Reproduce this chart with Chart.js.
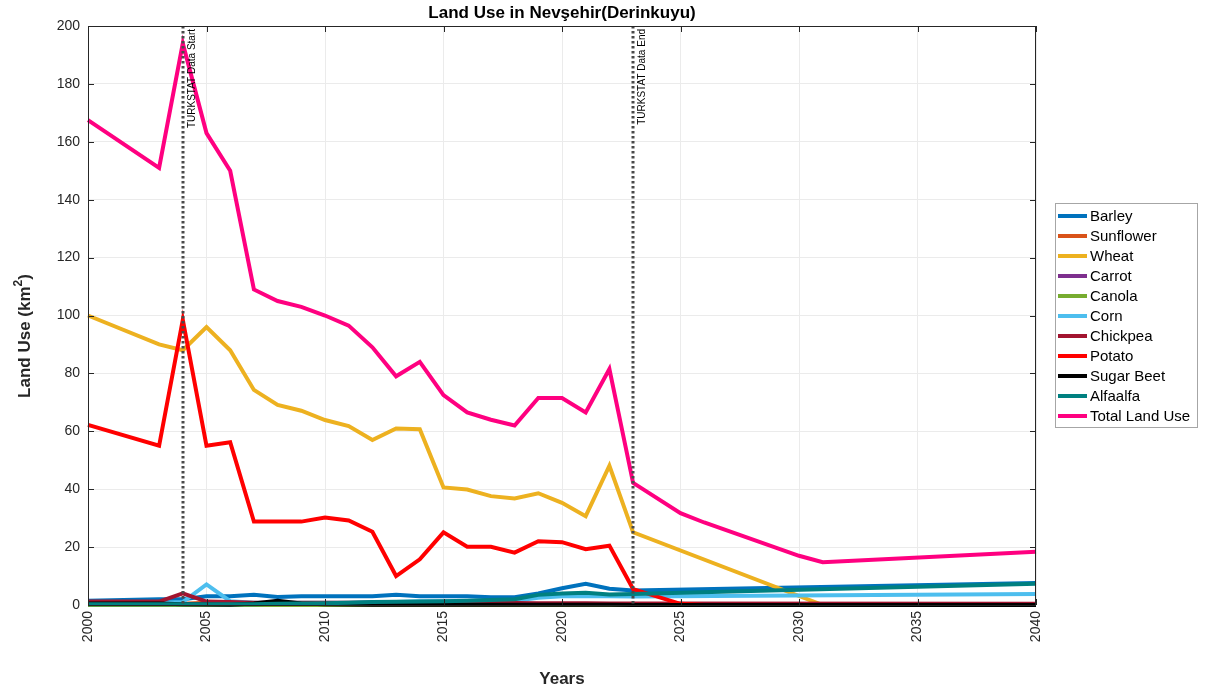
<!DOCTYPE html>
<html>
<head>
<meta charset="utf-8">
<script src="https://cdn.jsdelivr.net/npm/chart.js@4.4.1/dist/chart.umd.min.js"></script>
<style>
html,body{margin:0;padding:0;background:#fff;}
#wrap{width:1206px;height:693px;}
</style>
</head>
<body>
<div id="wrap"><canvas id="c"></canvas></div>
<script>
//Data
var years = [2000,2003,2004,2005,2006,2007,2008,2009,2010,2011,2012,2013,2014,2015,2016,2017,2018,2019,2020,2021,2022,2023,2025,2026,2030,2031,2040];
var labels = ["Barley","Sunflower","Wheat","Carrot","Canola","Corn","Chickpea","Potato","Sugar Beet","Alfaalfa","Total Land Use"];
var colors = ["#0072BD","#D95319","#EDB120","#7E2F8E","#77AC30","#4DBEEE","#A2142F","#FF0000","#000000","#008080","#FF0080"];
var barley    = [1.5,2,2,3,3,3.5,2.8,3,3,3,3,3.5,3,3,3,2.7,2.7,4,5.8,7.3,5.6,5,null,null,null,null,7.6];
var sunflower = [0.3,0.3,0.4,0.8,0.4,0.3,0.3,0.3,0.3,0.3,0.3,0.3,0.3,0.3,0.3,0.3,0.3,0.3,0.3,0.3,0.3,0.2,null,null,null,null,0.2];
var wheat     = [100,90,88,96,88,74.3,69.1,67.1,63.9,61.8,57,61,60.7,40.6,39.9,37.6,36.8,38.6,35.3,30.7,48.1,25.1,null,null,null,0,0];
var carrot    = [0.2,0.2,0.2,0.2,0.2,0.2,0.2,0.2,0.2,0.2,0.2,0.2,0.2,0.2,0.2,0.2,0.2,0.2,0.2,0.2,0.2,0.1,null,null,null,null,0.1];
var canola    = [0,0,0,0,0,0,0,0,0,0,0.1,0.1,0.1,0.1,0.1,0.1,0.1,0.1,0.1,0.1,0.1,0.1,null,null,null,null,0.1];
var corn      = [0.8,0.8,1,7.1,1.3,0.8,0.8,0.8,0.8,0.8,1,1,1.3,1.3,1.3,1.3,1.5,2.5,3,3,3,2.9,null,null,null,null,3.8];
var chickpea  = [1.2,1.2,4,1.2,1,0.8,0.8,0.8,0.8,0.8,0.8,0.8,0.8,0.8,0.8,0.7,0.7,0.6,0.6,0.6,0.5,0.5,null,null,null,null,0.4];
var potato    = [62.2,55,98.5,55,56.2,28.8,28.8,28.8,30.2,29.2,25.3,10,15.8,25.1,20.1,20.1,18.1,22,21.7,19.3,20.5,5.5,0.4,0,null,null,0];
var sugarBeet = [0.5,0.5,0.3,0.2,0.1,0.5,1.5,0.5,0.3,0.2,0.1,0.1,0.1,0.1,0.1,0.1,0.1,0.1,0.1,0.1,0.1,0,null,null,null,null,0];
var alfaalfa  = [0.3,0.3,0.3,0.3,0.3,0.3,0.4,0.5,0.6,0.8,1,1.1,1.2,1.3,1.5,1.7,2,3.5,4,4.2,3.6,3.8,null,null,null,null,7.3];
var total     = [167.5,151,194,163,150,109,105,103,100,96.5,89,79,84,72.5,66.5,64,62,71.5,71.5,66.5,81.5,42.2,31.7,28.5,17,14.8,18.4];
var series = [barley,sunflower,wheat,carrot,canola,corn,chickpea,potato,sugarBeet,alfaalfa,total];
var markers = [{year:2004,text:"TURKSTAT Data Start"},{year:2023,text:"TURKSTAT Data End"}];
var xTicks = [2000,2005,2010,2015,2020,2025,2030,2035,2040];
var titleText = "Land Use in Nev\u015Fehir(Derinkuyu)";

var FONT = "'Liberation Sans', Arial, Helvetica, sans-serif";

//Plot decorations: title, y label, box, inward ticks, marker lines, legend
var decor = {
	id:'decor',
	afterDatasetsDraw:function(chart){
		var ctx = chart.ctx, a = chart.chartArea, xs = chart.scales.x, ys = chart.scales.y;
		ctx.save();
		//marker lines
		markers.forEach(function(m){
			var px = Math.round(xs.getPixelForValue(m.year));
			ctx.strokeStyle = '#4a4a4a';
			ctx.lineWidth = 3;
			ctx.setLineDash([2.5,2.5]);
			ctx.beginPath();ctx.moveTo(px,a.top);ctx.lineTo(px,a.bottom);ctx.stroke();
			ctx.setLineDash([]);
			ctx.save();
			ctx.translate(px+9,a.top+3);
			ctx.rotate(-Math.PI/2);
			ctx.fillStyle = '#000';
			ctx.font = '10px '+FONT;
			ctx.textAlign = 'right';
			ctx.textBaseline = 'middle';
			ctx.fillText(m.text,0,0);
			ctx.restore();
		});
		//box
		ctx.strokeStyle = '#262626';
		ctx.lineWidth = 1;
		ctx.strokeRect(a.left+0.5,a.top+0.5,a.right-a.left-1,a.bottom-a.top);
		ctx.beginPath();
		xTicks.forEach(function(v){
			var px = Math.round(xs.getPixelForValue(v))+0.5;
			ctx.moveTo(px,a.bottom);ctx.lineTo(px,a.bottom-6);
			ctx.moveTo(px,a.top);ctx.lineTo(px,a.top+6);
		});
		for(var v=0;v<=200;v+=20){
			var py = Math.round(ys.getPixelForValue(v))+0.5;
			ctx.moveTo(a.left,py);ctx.lineTo(a.left+6,py);
			ctx.moveTo(a.right,py);ctx.lineTo(a.right-6,py);
		}
		ctx.stroke();
		//title
		ctx.fillStyle = '#000';
		ctx.font = 'bold 17px '+FONT;
		ctx.textAlign = 'center';
		ctx.textBaseline = 'middle';
		ctx.fillText(titleText,(a.left+a.right)/2,13);
		//y label with superscript
		ctx.save();
		ctx.translate(25,336);
		ctx.rotate(-Math.PI/2);
		ctx.fillStyle = '#262626';
		var main = 'Land Use (km', sup = '2', tail = ')';
		ctx.font = 'bold 17px '+FONT;
		var w1 = ctx.measureText(main).width, w3 = ctx.measureText(tail).width;
		ctx.font = 'bold 12px '+FONT;
		var w2 = ctx.measureText(sup).width;
		var x0 = -(w1+w2+w3)/2;
		ctx.textAlign = 'left';
		ctx.font = 'bold 17px '+FONT;
		ctx.fillText(main,x0,0);
		ctx.fillText(tail,x0+w1+w2,0);
		ctx.font = 'bold 12px '+FONT;
		ctx.fillText(sup,x0+w1,-6);
		ctx.restore();
		//legend
		var lx = 1055, ly = 203, lw = 142, lh = 224;
		ctx.fillStyle = '#fff';
		ctx.fillRect(lx,ly,lw,lh);
		ctx.strokeStyle = '#a6a6a6';
		ctx.lineWidth = 1;
		ctx.strokeRect(lx+0.5,ly+0.5,lw,lh);
		ctx.font = '15px '+FONT;
		ctx.textAlign = 'left';
		ctx.textBaseline = 'middle';
		chart.data.datasets.forEach(function(ds,i){
			var y = ly+13+i*20;
			ctx.strokeStyle = ds.borderColor;
			ctx.lineWidth = 4;
			ctx.beginPath();ctx.moveTo(lx+3,y);ctx.lineTo(lx+32,y);ctx.stroke();
			ctx.fillStyle = '#000';
			ctx.fillText(ds.label,lx+35,y+1);
		});
		ctx.restore();
	}
};

var datasets = labels.map(function(name,i){
	return {
		label:name,
		data:years.map(function(yr,j){return {x:yr,y:series[i][j]};}),
		borderColor:colors[i],
		backgroundColor:colors[i],
		borderWidth:4,
		pointRadius:0,
		tension:0,
		spanGaps:true,
		clip:6,
		order:-i
	};
});

new Chart(document.getElementById('c'),{
	type:'line',
	data:{datasets:datasets},
	plugins:[decor],
	options:{
		responsive:true,
		maintainAspectRatio:false,
		animation:false,
		devicePixelRatio:1,
		layout:{padding:{top:26,right:170,left:0,bottom:0}},
		plugins:{legend:{display:false},tooltip:{enabled:false},title:{display:false}},
		scales:{
			x:{
				type:'linear',
				min:2000,max:2040,
				afterFit:function(s){s.height=88;},
				ticks:{stepSize:5,minRotation:90,maxRotation:90,padding:6,color:'#262626',font:{family:FONT,size:14},callback:function(v){return String(v);}},
				grid:{color:'#ebebeb',drawTicks:false},
				border:{display:false},
				title:{display:true,text:'Years',color:'#262626',font:{family:FONT,size:17,weight:'bold'},padding:{top:0,bottom:3}}
			},
			y:{
				min:0,max:200,
				afterFit:function(s){s.width=88;},
				ticks:{stepSize:20,padding:8,color:'#262626',font:{family:FONT,size:14}},
				grid:{color:'#ebebeb',drawTicks:false},
				border:{display:false}
			}
		}
	}
});
</script>
</body>
</html>
